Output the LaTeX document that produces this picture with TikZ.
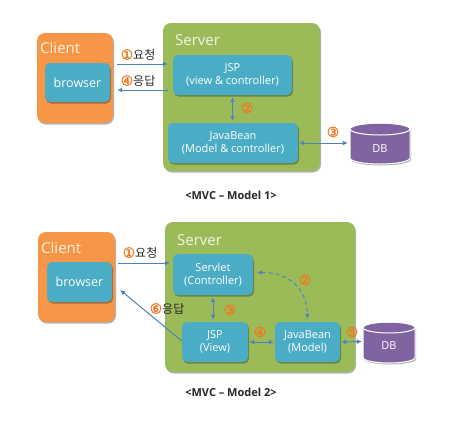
\documentclass[tikz,border=0pt]{standalone}
\usepackage{fontspec}
\setmainfont{Open Sans}
\newfontfamily\kr{Noto Sans CJK KR}
\newfontfamily\numfont[FakeBold=2]{DejaVu Sans}
\usetikzlibrary{shapes.geometric,shadows,arrows.meta}
\definecolor{corange}{HTML}{F79646}
\definecolor{cnum}{HTML}{F07A22}
\definecolor{cgreen}{HTML}{9BBB59}
\definecolor{cblue}{HTML}{4BACC6}
\definecolor{cpurple}{HTML}{8064A2}
\definecolor{carrow}{HTML}{4F81BD}
\definecolor{ctext}{HTML}{262626}
\newcommand{\cn}[1]{\textcolor{cnum}{\numfont\fontsize{14}{15}\selectfont #1}}
\tikzset{
  x=1pt, y=-1pt,
  shad/.style={drop shadow={shadow xshift=1pt,shadow yshift=-1.5pt,opacity=0.3,fill=black}},
  outer/.style={rounded corners=8pt, shad, inner sep=0pt},
  clientbox/.style={outer, fill=corange},
  serverbox/.style={outer, fill=cgreen},
  blbox/.style={rounded corners=5pt, fill=cblue, shad, text=white, align=center, inner sep=1pt, font=\fontsize{11}{13.5}\selectfont},
  boxtitle/.style={anchor=west, font=\fontsize{15}{17}\selectfont, inner sep=0pt},
  dbbody/.style={fill=cpurple, draw=white, line width=1pt, shad},
  dbtext/.style={inner sep=0pt, text=white, font=\fontsize{11}{13}\selectfont},
  arr/.style={draw=carrow, line width=1pt, -{Latex[length=5pt,width=5pt]}},
  darr/.style={draw=carrow, line width=1pt, {Latex[length=5pt,width=5pt]}-{Latex[length=5pt,width=5pt]}},
  lbl/.style={inner sep=0pt, text=ctext, font=\kr\fontsize{12}{13}\selectfont},
  numlbl/.style={inner sep=0pt},
  captxt/.style={inner sep=0pt, text=ctext, font=\bfseries\fontsize{11}{13}\selectfont}
}
\begin{document}
\begin{tikzpicture}
\useasboundingbox (0,0) rectangle (462,424);
% ---------------- Model 1 ----------------
\node[clientbox, minimum width=76, minimum height=90] (client1) at (75,78) {};
\node[boxtitle, text=white!85!corange] (ctitle1) at (40,48) {Client};
\node[blbox, minimum width=65, minimum height=39, font=\fontsize{12.5}{14}\selectfont] (browser1) at (77.5,82.5) {browser};
\node[serverbox, minimum width=157, minimum height=148] (server1) at (241.5,97) {};
\node[boxtitle, text=white!85!cgreen] (stitle1) at (175,40) {Server};
\node[blbox, minimum width=119, minimum height=40] (jsp1) at (232.5,75) {JSP\\(view \& controller)};
\node[blbox, minimum width=130, minimum height=40] (bean1) at (233,143) {JavaBean\\(Model \& controller)};
% DB 1
\path[dbbody] (350,129) -- (350,158) arc[start angle=180,end angle=360,x radius=30pt,y radius=6pt] -- (410,129) arc[start angle=0,end angle=180,x radius=30pt,y radius=6pt] -- cycle;
\draw[white, line width=1pt] (380,129) ellipse[x radius=30pt, y radius=6pt];
\node[inner sep=0pt, minimum width=60, minimum height=42] (db1) at (380,143) {};
\node[dbtext] (dbt1) at (380,149) {DB};

\draw[arr] ([xshift=4pt,yshift=14pt]client1.east) -- ([xshift=-5pt,yshift=11pt]jsp1.west);
\draw[arr] ([xshift=-5pt,yshift=-15pt]jsp1.west) -- ([xshift=4pt,yshift=-12pt]client1.east);
\draw[darr] ([yshift=-2pt]jsp1.south) -- ([yshift=2pt]jsp1.south |- bean1.north);
\draw[darr] ([xshift=1pt]bean1.east) -- ([xshift=-2pt]db1.west);

\node[lbl] (l1a) at (138,55) {\cn{①}요청};
\node[lbl] (l1b) at (138,81) {\cn{④}응답};
\node[numlbl] (n12) at (247,108) {\cn{②}};
\node[numlbl] (n13) at (333,132) {\cn{③}};

\node[captxt] (cap1) at (231,195) {<MVC – Model 1>};

% ---------------- Model 2 ----------------
\node[clientbox, minimum width=77, minimum height=90] (client2) at (76.5,277) {};
\node[boxtitle, text=white!85!corange] (ctitle2) at (41,248) {Client};
\node[blbox, minimum width=65, minimum height=40, font=\fontsize{12.5}{14}\selectfont] (browser2) at (79.5,282) {browser};
\node[serverbox, minimum width=190, minimum height=150] (server2) at (260,297) {};
\node[boxtitle, text=white!85!cgreen] (stitle2) at (177,240) {Server};
\node[blbox, minimum width=80, minimum height=41] (servlet) at (213,274.5) {Servlet\\(Controller)};
\node[blbox, minimum width=66, minimum height=40] (jsp2) at (215,342) {JSP\\(View)};
\node[blbox, minimum width=65, minimum height=40] (bean2) at (307.5,342) {JavaBean\\(Model)};
% DB 2
\path[dbbody] (363,327.5) -- (363,357.5) arc[start angle=180,end angle=360,x radius=26pt,y radius=5.5pt] -- (415,327.5) arc[start angle=0,end angle=180,x radius=26pt,y radius=5.5pt] -- cycle;
\draw[white, line width=1pt] (389,327.5) ellipse[x radius=26pt, y radius=5.5pt];
\node[inner sep=0pt, minimum width=52, minimum height=43] (db2) at (389,341.5) {};
\node[dbtext] (dbt2) at (389,346) {DB};

\draw[arr] ([xshift=3pt,yshift=14pt]client2.east) -- ([xshift=-3pt,yshift=11.5pt]servlet.west);
\draw[arr] ([yshift=1pt]jsp2.west) -- ([xshift=5pt,yshift=-13pt]client2.east);
\draw[darr] ([yshift=-2pt]servlet.south) -- ([yshift=2pt]servlet.south |- jsp2.north);
\draw[darr] ([xshift=1pt]jsp2.east) -- ([xshift=-1pt]bean2.west);
\draw[darr] ([xshift=1pt]bean2.east) -- ([xshift=-1pt]db2.west);
\draw[darr, dash pattern=on 4pt off 3pt] ([xshift=4pt,yshift=2pt]servlet.east) .. controls (290,272) and (307,290) .. ([yshift=3pt]bean2.north);

\node[lbl] (l2a) at (140,253) {\cn{①}요청};
\node[lbl] (l2b) at (167,309) {\cn{⑥}응답};
\node[numlbl] (n22) at (305,280) {\cn{②}};
\node[numlbl] (n23) at (230,310) {\cn{③}};
\node[numlbl] (n24) at (260,332) {\cn{④}};
\node[numlbl] (n25) at (352,332) {\cn{⑤}};

\node[captxt] (cap2) at (231,392) {<MVC – Model 2>};
\end{tikzpicture}
\end{document}
